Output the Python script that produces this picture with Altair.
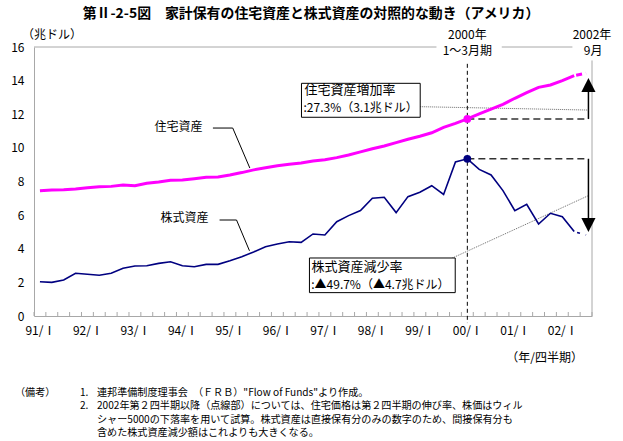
import altair as alt
import pandas as pd

FONT = "Noto Sans CJK JP"
GRAY = "#a8a8a8"
MAGENTA = "#ff00ff"
NAVY = "#000080"

# quarterly data, 1991 Q1 - 2002 Q3 (trillion dollars)
years = ["91", "92", "93", "94", "95", "96", "97", "98", "99", "00", "01", "02"]
housing = [7.45, 7.49, 7.51, 7.55, 7.63, 7.69, 7.71, 7.79, 7.75, 7.89, 7.97, 8.07,
           8.09, 8.17, 8.25, 8.27, 8.39, 8.53, 8.69, 8.82, 8.94, 9.02, 9.10, 9.22,
           9.30, 9.42, 9.58, 9.76, 9.95, 10.11, 10.31, 10.51, 10.69, 10.90, 11.22, 11.46,
           11.72, 12.02, 12.30, 12.59, 12.95, 13.28, 13.60, 13.74, 14.00, 14.30, 14.44]
stock = [2.04, 2.00, 2.14, 2.54, 2.48, 2.42, 2.54, 2.84, 2.97, 2.99, 3.13, 3.23,
         2.99, 2.93, 3.07, 3.07, 3.29, 3.53, 3.81, 4.12, 4.28, 4.42, 4.38, 4.88,
         4.82, 5.61, 5.97, 6.27, 7.00, 7.06, 6.15, 7.10, 7.36, 7.75, 7.23, 9.16,
         9.35, 8.72, 8.39, 7.46, 6.27, 6.64, 5.47, 6.11, 5.91, 5.02, 4.82]
quarters = [f"{y}/{q}" for y in years for q in ["Ⅰ", "Ⅱ", "Ⅲ", "Ⅳ"]][:len(housing)]

BASE_Q = 36          # 2000 Q1
LAST_SOLID = 45      # from 2002 Q2 on the series are estimates
ARROW_X = 46.2

W, H = 558, 269
xs = alt.Scale(domain=[-0.5, len(housing) - 0.5], nice=False, zero=False)
ys = alt.Scale(domain=[0, 16], nice=False)

label_expr = "[" + ",".join(f"'{y}/Ⅰ'" for y in years) + "][datum.value / 4]"
x_axis = alt.Axis(values=list(range(0, len(housing), 4)), labelExpr=label_expr, ticks=False,
                  grid=False, domainColor=GRAY, labelFont=FONT, labelFontSize=12,
                  labelColor="black", labelPadding=9, title=None)
y_axis = alt.Axis(values=list(range(0, 17, 2)), ticks=False, grid=False, domainColor=GRAY,
                  labelFont=FONT, labelFontSize=12, labelColor="black", labelPadding=10,
                  title=None)


def X(field):
    return alt.X(field, type="quantitative", scale=xs, axis=x_axis)


def Y(field):
    return alt.Y(field, type="quantitative", scale=ys, axis=y_axis)


df = pd.DataFrame({"i": range(len(housing)), "q": quarters,
                   "housing": housing, "stock": stock})
solid = df[df.i <= LAST_SOLID]
proj = df[df.i >= LAST_SOLID]
base = df[df.i == BASE_Q]

layers = []

# frame: top edge broken around the date labels, right edge below "9月"
frame = pd.DataFrame({"x": [-0.5, 38.9, len(housing) - 0.5],
                      "x2": [33.4, 44.85, len(housing) - 0.5],
                      "y": [16, 16, 0], "y2": [16, 16, 15.2]})
layers.append(alt.Chart(frame).mark_rule(color=GRAY, strokeWidth=1).encode(
    x=X("x"), x2="x2", y=Y("y"), y2="y2"))

# quarter ticks drawn inside the plot
ticks = pd.DataFrame({"b": [k - 0.5 for k in range(len(housing) + 1)]})
layers.append(alt.Chart(ticks).mark_rule(color=GRAY, strokeWidth=1).encode(
    x=X("b"), y=alt.value(H - 4), y2=alt.value(H)))

# vertical dashed marker at 2000 Q1
layers.append(alt.Chart(pd.DataFrame({"x": [BASE_Q], "y": [15.0], "y2": [-0.42]}))
              .mark_rule(color="black", strokeWidth=1, strokeDash=[4, 3])
              .encode(x=X("x"), y=Y("y"), y2="y2"))

# dashed levels from the 2000 Q1 values to the arrows
levels = pd.DataFrame({"x": [BASE_Q, BASE_Q], "x2": [ARROW_X, ARROW_X],
                       "y": [housing[BASE_Q], stock[BASE_Q]]})
layers.append(alt.Chart(levels).mark_rule(color="#333333", strokeWidth=1.5, strokeDash=[7, 4])
              .encode(x=X("x"), x2="x2", y=Y("y")))

# arrow shafts
shafts = pd.DataFrame({"x": [ARROW_X, ARROW_X], "y": [housing[BASE_Q], stock[BASE_Q]],
                       "y2": [13.74, 5.41]})
layers.append(alt.Chart(shafts).mark_rule(color="black", strokeWidth=1.5)
              .encode(x=X("x"), y=Y("y"), y2="y2"))
heads = pd.DataFrame({"x": [ARROW_X, ARROW_X], "y": [13.74, 5.41],
                      "shape": ["M0,-1L1,1L-1,1Z", "M0,1L1,-1L-1,-1Z"]})
layers.append(alt.Chart(heads).mark_point(filled=True, color="black", size=200, opacity=1)
              .encode(x=X("x"), y=Y("y"),
                      shape=alt.Shape("shape:N", scale=None, legend=None)))

# dotted callout lines to the boxes
callouts = pd.DataFrame({"x": [32.03, 34.74], "x2": [ARROW_X, ARROW_X],
                         "y": [12.45, 3.45], "y2": [12.25, 7.16]})
layers.append(alt.Chart(callouts).mark_rule(color="#444444", strokeWidth=0.8, strokeDash=[1, 1])
              .encode(x=X("x"), x2="x2", y=Y("y"), y2="y2"))

# series
layers.append(alt.Chart(solid).mark_line(color=MAGENTA, strokeWidth=3)
              .encode(x=X("i"), y=Y("housing")))
layers.append(alt.Chart(proj).mark_line(color=MAGENTA, strokeWidth=3, strokeDash=[6, 4],
                                        strokeDashOffset=8)
              .encode(x=X("i"), y=Y("housing")))
layers.append(alt.Chart(solid).mark_line(color=NAVY, strokeWidth=1.6)
              .encode(x=X("i"), y=Y("stock")))
layers.append(alt.Chart(proj).mark_line(color=NAVY, strokeWidth=1.6, strokeDash=[3, 6],
                                        strokeDashOffset=6)
              .encode(x=X("i"), y=Y("stock")))
layers.append(alt.Chart(base).mark_circle(color=MAGENTA, size=60, opacity=1)
              .encode(x=X("i"), y=Y("housing")))
layers.append(alt.Chart(base).mark_circle(color=NAVY, size=60, opacity=1)
              .encode(x=X("i"), y=Y("stock")))

# series name labels with leader lines
leaders = pd.DataFrame({
    "g": ["h", "h", "h", "s", "s", "s"], "o": [0, 1, 2, 0, 1, 2],
    "x": [14.57, 16.24, 17.68, 15.13, 16.56, 17.65],
    "y": [11.18, 11.18, 8.80, 5.71, 5.71, 3.88]})
layers.append(alt.Chart(leaders).mark_line(color="black", strokeWidth=1)
              .encode(x=X("x"), y=Y("y"), detail="g:N", order="o:Q"))
names = pd.DataFrame({"x": [11.68, 12.18], "y": [11.24, 5.83], "t": ["住宅資産", "株式資産"]})
layers.append(alt.Chart(names).mark_text(font=FONT, fontSize=12, color="black")
              .encode(x=X("x"), y=Y("y"), text="t:N"))

# boxed rate annotations
boxes = pd.DataFrame({"x": [22.03, 22.7], "x2": [32.03, 34.98],
                      "y": [11.82, 1.39], "y2": [13.84, 3.45]})
layers.append(alt.Chart(boxes).mark_rect(fill="white", stroke="black", strokeWidth=1)
              .encode(x=X("x"), x2="x2", y=Y("y"), y2="y2"))
box_text = pd.DataFrame({
    "x": [22.29, 22.2, 22.88, 22.85], "y": [13.43, 12.38, 2.90, 1.83],
    "t": ["住宅資産増加率", ":27.3%（3.1兆ドル）", "株式資産減少率", ":▲49.7%（▲4.7兆ドル）"],
    "s": [13, 12, 13, 12]})
layers.append(alt.Chart(box_text).mark_text(font=FONT, align="left", baseline="middle",
                                            color="black")
              .encode(x=X("x"), y=Y("y"), text="t:N",
                      size=alt.Size("s:Q", scale=None, legend=None)))

# date labels above the plot
date_text = pd.DataFrame({"x": [BASE_Q, BASE_Q, 46.5, 46.6],
                          "y": [-12, 4, -12, 4],
                          "t": ["2000年", "1～3月期", "2002年", "9月"]})
layers.append(alt.Chart(date_text).mark_text(font=FONT, fontSize=12, baseline="middle",
                                             color="black")
              .encode(x=X("x"), y=alt.Y("y:Q", scale=None), text="t:N"))

# titles, unit labels and notes around the plot
outer = pd.DataFrame({
    "x": [277, -12, 549],
    "y": [-33, -12, 311],
    "t": ["第Ⅱ-2-5図　家計保有の住宅資産と株式資産の対照的な動き（アメリカ）",
          "（兆ドル）", "（年/四半期）"],
    "s": [13.9, 12, 12], "w": ["bold", "normal", "normal"], "a": ["center", "left", "right"]})
for _, r in outer.iterrows():
    layers.append(alt.Chart(pd.DataFrame([r])).mark_text(
        font=FONT, fontSize=r["s"], fontWeight=r["w"], align=r["a"], baseline="middle",
        color="black").encode(x=alt.X("x:Q", scale=None), y=alt.Y("y:Q", scale=None),
                              text="t:N"))

notes = pd.DataFrame({
    "x": [-19, 46, 63, 46, 63, 63, 63],
    "y": [345.5, 345.5, 345.5, 359, 359, 372.5, 386],
    "t": ["（備考）", "1.", "連邦準備制度理事会　（ＦＲＢ）\"Flow of Funds\"より作成。",
          "2.", "2002年第２四半期以降（点線部）については、住宅価格は第２四半期の伸び率、株価はウィル",
          "シャー5000の下落率を用いて試算。株式資産は直接保有分のみの数字のため、間接保有分も",
          "含めた株式資産減少額はこれよりも大きくなる。"]})
layers.append(alt.Chart(notes).mark_text(font=FONT, fontSize=10.1, align="left",
                                         baseline="middle", color="black")
              .encode(x=alt.X("x:Q", scale=None), y=alt.Y("y:Q", scale=None), text="t:N"))

chart = alt.layer(*layers).properties(
    width=W, height=H,
    padding={"left": 34, "top": 47, "right": 31, "bottom": 125},
    autosize=alt.AutoSizeParams(type="none"),
    background="white",
).configure_view(stroke=None)

chart.save("out.html", embed_options={"renderer": "svg", "actions": False})
